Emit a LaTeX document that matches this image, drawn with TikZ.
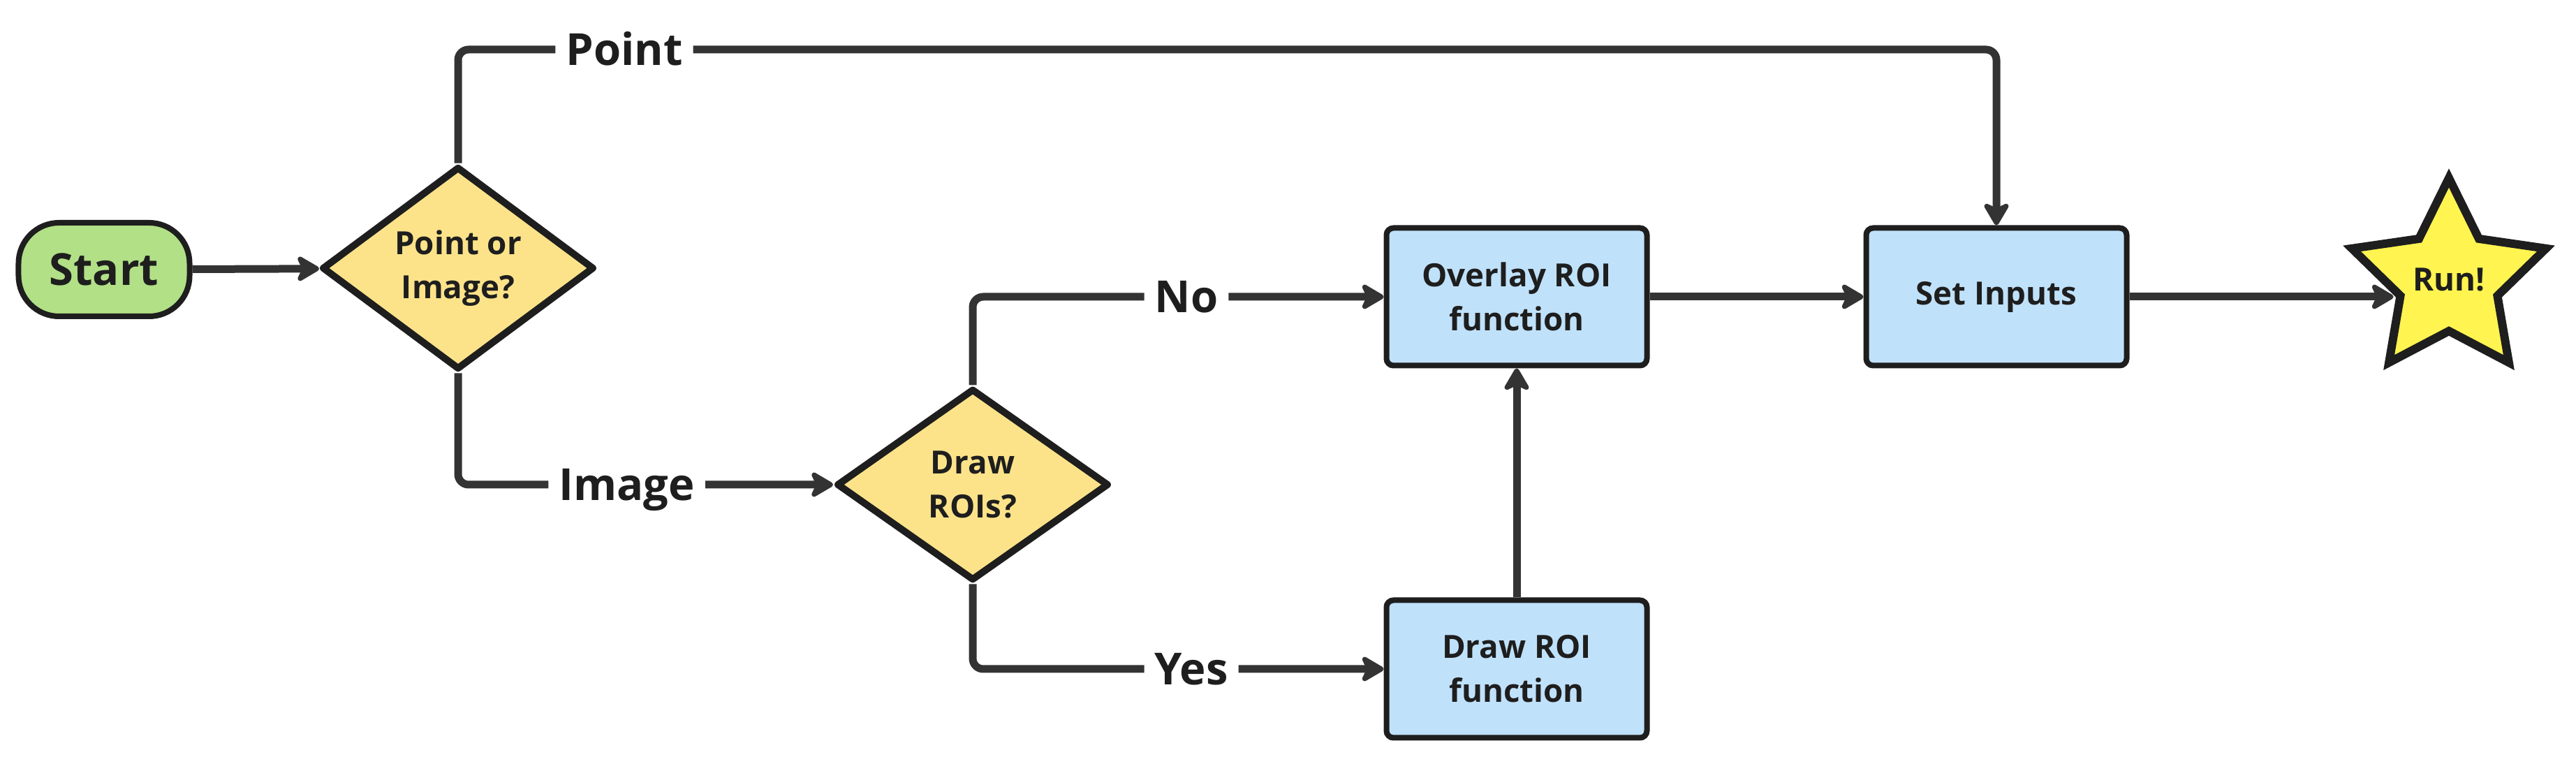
\documentclass[tikz,border=0pt]{standalone}
\usepackage{fontspec}
\setmainfont{Open Sans}
\usetikzlibrary{arrows.meta,positioning,shapes.geometric}
\definecolor{linegray}{HTML}{333333}
\definecolor{edgeblack}{HTML}{1E1E1E}
\definecolor{startgreen}{HTML}{B2E086}
\definecolor{askyellow}{HTML}{FCE38A}
\definecolor{stepblue}{HTML}{C0E1FA}
\definecolor{staryellow}{HTML}{FFF450}

\begin{document}
\begin{tikzpicture}[
    x=1mm, y=1mm,
    base/.style={draw=edgeblack, line width=0.8mm, align=center, text=edgeblack,
        font=\fontsize{13}{18}\selectfont\bfseries},
    terminal/.style={base, fill=startgreen, rounded corners=5.8mm, minimum width=24.5mm,
        minimum height=13.4mm, font=\fontsize{18}{22}\selectfont\bfseries},
    decision/.style={base, diamond, fill=askyellow, minimum width=39mm,
        minimum height=27.5mm, inner sep=0pt, line width=1mm, line join=round},
    process/.style={base, fill=stepblue, rounded corners=1mm,
        minimum width=37.3mm, minimum height=19.7mm},
    goal/.style={base, star, star points=5, star point ratio=2, fill=staryellow,
        line width=1.2mm, minimum size=29mm, inner sep=0pt},
    arrow/.style={-{Stealth[length=3.8mm, width=4.4mm, inset=1mm, round]},
        line width=1.1mm, draw=linegray, rounded corners=1.5mm},
    lbl/.style={fill=white, inner xsep=1.5mm, inner ysep=0.8mm, text=edgeblack,
        text height=4.5mm, text depth=0mm, font=\fontsize{18}{22}\selectfont\bfseries}
]
\useasboundingbox (0,0) rectangle (368.9,-108.4);
\node[terminal] (start) at (14.9,-38.6) {Start};
\node[decision] (choice) at (65.6,-38.4) {Point or\\Image?};
\node[decision] (drawq) at (139.3,-69.4) {Draw\\ROIs?};
\node[process] (overlay) at (217.2,-42.5) {Overlay ROI\\function};
\node[process] (drawroi) at (217.2,-95.8) {Draw ROI\\function};
\node[process] (setin) at (285.9,-42.5) {Set Inputs};
\node[goal] (run) at (350.7,-40.1) {Run!};
\coordinate (ptop) at (65.6,-7.1);
\draw[arrow] (start) -- (choice);
\draw[arrow] (choice.north) -- (ptop) -| node[lbl, pos=0.054] {Point} (setin.north);
\draw[arrow] (choice.south) |- node[lbl, pos=0.725] {Image} (drawq.west);
\draw[arrow] (drawq.north) |- node[lbl, pos=0.76] {No} (overlay.west);
\draw[arrow] (drawq.south) |- node[lbl, pos=0.766] {Yes} (drawroi.west);
\draw[arrow] (drawroi) -- (overlay);
\draw[arrow] (overlay) -- (setin);
\draw[arrow] (setin.east) -- (setin.east -| run.195);
\end{tikzpicture}
\end{document}
